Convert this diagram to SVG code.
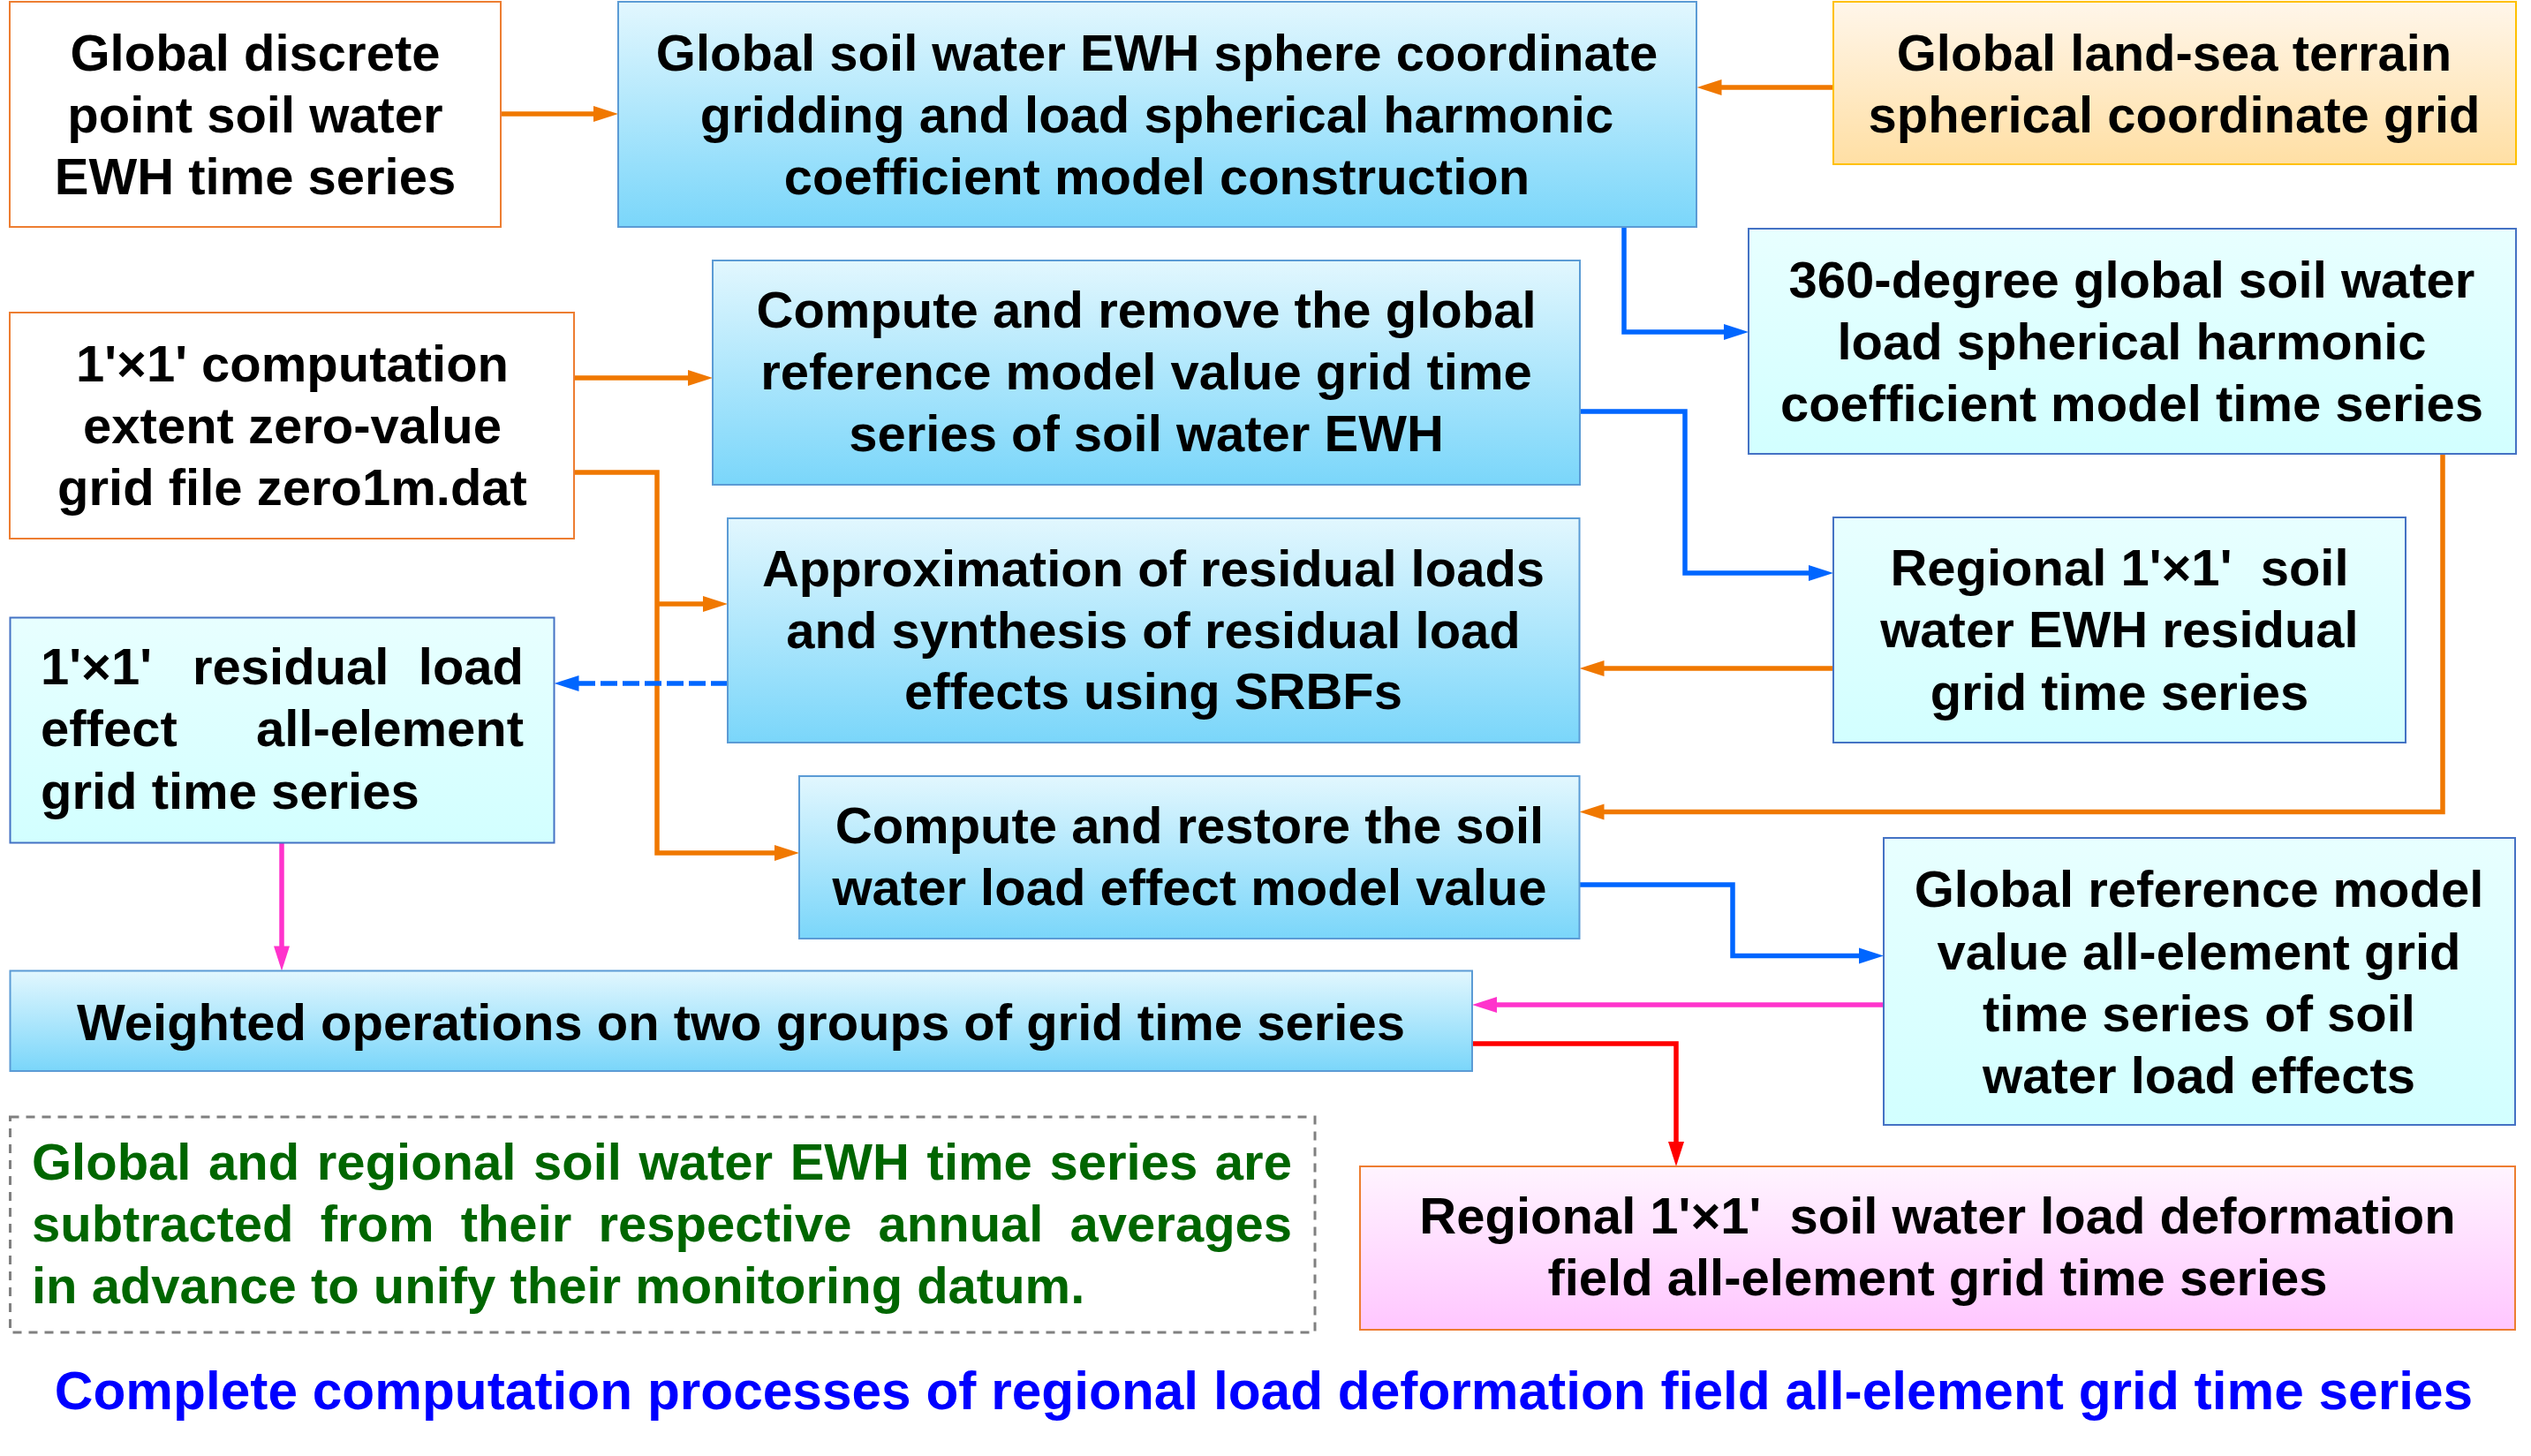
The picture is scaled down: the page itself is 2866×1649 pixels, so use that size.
<svg xmlns="http://www.w3.org/2000/svg" width="2866" height="1649" viewBox="0 0 2866 1649">
<defs>
<linearGradient id="gBlue" x1="0" y1="0" x2="0" y2="1">
<stop offset="0" stop-color="#E2F7FE"/><stop offset="1" stop-color="#7AD6FA"/>
</linearGradient>
<linearGradient id="gCyan" x1="0" y1="0" x2="0" y2="1">
<stop offset="0" stop-color="#E8FFFF"/><stop offset="1" stop-color="#D2FFFF"/>
</linearGradient>
<linearGradient id="gOrange" x1="0" y1="0" x2="0" y2="1">
<stop offset="0" stop-color="#FFF6EA"/><stop offset="1" stop-color="#FFDFA4"/>
</linearGradient>
<linearGradient id="gPink" x1="0" y1="0" x2="0" y2="1">
<stop offset="0" stop-color="#FFF4FF"/><stop offset="1" stop-color="#FFC6FF"/>
</linearGradient>
<marker id="aOrange" markerUnits="userSpaceOnUse" markerWidth="28" markerHeight="18" refX="8" refY="9" orient="auto" overflow="visible"><path d="M0,0 L28,9 L0,18 z" fill="#F07800"/></marker>
<marker id="aBlue" markerUnits="userSpaceOnUse" markerWidth="28" markerHeight="18" refX="8" refY="9" orient="auto" overflow="visible"><path d="M0,0 L28,9 L0,18 z" fill="#0066FF"/></marker>
<marker id="aMagenta" markerUnits="userSpaceOnUse" markerWidth="28" markerHeight="18" refX="8" refY="9" orient="auto" overflow="visible"><path d="M0,0 L28,9 L0,18 z" fill="#FF33CC"/></marker>
<marker id="aRed" markerUnits="userSpaceOnUse" markerWidth="28" markerHeight="18" refX="8" refY="9" orient="auto" overflow="visible"><path d="M0,0 L28,9 L0,18 z" fill="#FF0000"/></marker>
</defs>
<style>
text { font-family: "Liberation Sans", Arial, sans-serif; font-weight: bold; font-size: 58px; fill: #000; }
.c { text-anchor: middle; }
.e { text-anchor: end; }
.bOr { fill: #FFFFFF; stroke: #ED7D31; stroke-width: 2; }
.bBl { fill: url(#gBlue); stroke: #5B9BD5; stroke-width: 2; }
.bCy { fill: url(#gCyan); stroke: #4472C4; stroke-width: 2; }
.bYe { fill: url(#gOrange); stroke: #FFC000; stroke-width: 2; }
.bPk { fill: url(#gPink); stroke: #ED7D31; stroke-width: 2; }
.note { fill: none; stroke: #808080; stroke-width: 3; stroke-dasharray: 10 8; }
.green { fill: #006600; }
.title { fill: #0000FF; font-size: 60.4px; }
.lo { fill: none; stroke: #F07800; stroke-width: 5.5; marker-end: url(#aOrange); }
.lb { fill: none; stroke: #0066FF; stroke-width: 5.5; marker-end: url(#aBlue); }
.lbd { fill: none; stroke: #0066FF; stroke-width: 5.5; stroke-dasharray: 19 6; marker-end: url(#aBlue); }
.lm { fill: none; stroke: #FF33CC; stroke-width: 5.5; marker-end: url(#aMagenta); }
.lr { fill: none; stroke: #FF0000; stroke-width: 5.5; marker-end: url(#aRed); }
</style>
<rect width="2866" height="1649" fill="#FFFFFF"/>

<g id="connectors">
<path class="lo" d="M567,129 H680"/>
<path class="lo" d="M2076,99 H1941.5"/>
<path class="lb" d="M1839,257 V376 H1960"/>
<path class="lo" d="M650,428 H787"/>
<path class="lo" d="M650,535 H744 V966 H885"/>
<path class="lo" d="M744,684 H804"/>
<path class="lb" d="M1789,466 H1908 V649 H2056"/>
<path class="lo" d="M2076,757 H1808.5"/>
<path class="lo" d="M2766,514 V919.5 H1808.5"/>
<path class="lbd" d="M824,774 H647.5"/>
<path class="lm" d="M319,954 V1079.5"/>
<path class="lb" d="M1788.5,1002 H1962 V1082.6 H2113"/>
<path class="lm" d="M2133,1138 H1687"/>
<path class="lr" d="M1667,1182 H1898 V1301"/>
</g>

<g id="n-discrete">
<rect class="bOr" x="11" y="2" width="556" height="255"/>
<text class="c" x="289" y="80">Global discrete</text>
<text class="c" x="289" y="150">point soil water</text>
<text class="c" x="289" y="220">EWH time series</text>
</g>

<g id="n-gridding">
<rect class="bBl" x="700" y="2" width="1221" height="255"/>
<text class="c" x="1310" y="80">Global soil water EWH sphere coordinate</text>
<text class="c" x="1310" y="150">gridding and load spherical harmonic</text>
<text class="c" x="1310" y="220">coefficient model construction</text>
</g>

<g id="n-terrain">
<rect class="bYe" x="2076" y="2" width="773" height="184"/>
<text class="c" x="2462" y="80">Global land-sea terrain</text>
<text class="c" x="2462" y="150">spherical coordinate grid</text>
</g>

<g id="n-sh360">
<rect class="bCy" x="1980" y="259" width="869" height="255"/>
<text class="c" x="2414" y="337">360-degree global soil water</text>
<text class="c" x="2414" y="407">load spherical harmonic</text>
<text class="c" x="2414" y="477">coefficient model time series</text>
</g>

<g id="n-remove">
<rect class="bBl" x="807" y="295" width="982" height="254"/>
<text class="c" x="1298" y="371">Compute and remove the global</text>
<text class="c" x="1298" y="441">reference model value grid time</text>
<text class="c" x="1298" y="511">series of soil water EWH</text>
</g>

<g id="n-zero">
<rect class="bOr" x="11" y="354" width="639" height="256"/>
<text class="c" x="331" y="432">1'×1' computation</text>
<text class="c" x="331" y="502">extent zero-value</text>
<text class="c" x="331" y="572">grid file zero1m.dat</text>
</g>

<g id="n-srbf">
<rect class="bBl" x="824" y="587" width="964.5" height="254"/>
<text class="c" x="1306" y="664">Approximation of residual loads</text>
<text class="c" x="1306" y="734">and synthesis of residual load</text>
<text class="c" x="1306" y="803">effects using SRBFs</text>
</g>

<g id="n-residual-grid">
<rect class="bCy" x="2076" y="586" width="648" height="255"/>
<text class="c" x="2400" y="663" xml:space="preserve">Regional 1'×1'  soil</text>
<text class="c" x="2400" y="733">water EWH residual</text>
<text class="c" x="2400" y="804">grid time series</text>
</g>

<g id="n-residual-effect">
<rect class="bCy" x="11.5" y="699.5" width="616" height="255"/>
<text x="46" y="775">1'×1'</text>
<text x="218" y="775">residual</text>
<text class="e" x="593" y="775">load</text>
<text x="46" y="845">effect</text>
<text class="e" x="593" y="845">all-element</text>
<text x="46" y="916">grid time series</text>
</g>

<g id="n-restore">
<rect class="bBl" x="905" y="879" width="883.5" height="184"/>
<text class="c" x="1347" y="955">Compute and restore the soil</text>
<text class="c" x="1347" y="1025">water load effect model value</text>
</g>

<g id="n-global-ref">
<rect class="bCy" x="2133" y="949" width="715" height="325"/>
<text class="c" x="2490" y="1027">Global reference model</text>
<text class="c" x="2490" y="1098">value all-element grid</text>
<text class="c" x="2490" y="1168">time series of soil</text>
<text class="c" x="2490" y="1238">water load effects</text>
</g>

<g id="n-weighted">
<rect class="bBl" x="11.5" y="1099.5" width="1655.5" height="113.5"/>
<text class="c" x="839" y="1178">Weighted operations on two groups of grid time series</text>
</g>

<g id="n-deformation">
<rect class="bPk" x="1540" y="1321" width="1308" height="185"/>
<text class="c" x="2194" y="1397" xml:space="preserve">Regional 1'×1'  soil water load deformation</text>
<text class="c" x="2194" y="1467">field all-element grid time series</text>
</g>

<g id="n-note">
<rect class="note" x="11.5" y="1265" width="1477.5" height="244"/>
<text class="green" x="36" y="1336" style="word-spacing:3.5px">Global and regional soil water EWH time series are</text>
<text class="green" x="36" y="1406" style="word-spacing:14px">subtracted from their respective annual averages</text>
<text class="green" x="36" y="1476">in advance to unify their monitoring datum.</text>
</g>

<g id="title">
<text class="title c" x="1431" y="1596">Complete computation processes of regional load deformation field all-element grid time series</text>
</g>
</svg>
